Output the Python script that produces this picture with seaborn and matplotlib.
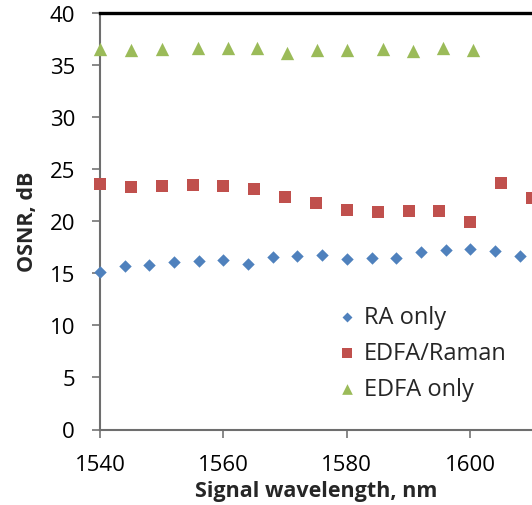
import matplotlib
matplotlib.use("Agg")
import matplotlib.pyplot as plt
import seaborn as sns
import pandas as pd

# ---- data ----
ra_wl = [1540, 1544, 1548, 1552, 1556, 1560, 1564, 1568, 1572, 1576,
         1580, 1584, 1588, 1592, 1596, 1600, 1604, 1608]
ra_osnr = [15.1, 15.65, 15.8, 16.05, 16.15, 16.3, 15.9, 16.55, 16.6, 16.7,
           16.35, 16.45, 16.45, 17.0, 17.2, 17.3, 17.15, 16.65]

hyb_wl = [1540, 1545, 1550, 1555, 1560, 1565, 1570, 1575, 1580, 1585,
          1590, 1595, 1600, 1605, 1610]
hyb_osnr = [23.55, 23.25, 23.4, 23.45, 23.35, 23.1, 22.35, 21.75, 21.1, 20.9,
            20.95, 21.0, 19.9, 23.65, 22.25]

edfa_wl = [1540, 1545, 1550, 1555.8, 1560.7, 1565.5, 1570.3, 1575.2, 1580,
           1585.8, 1590.7, 1595.6, 1600.4]
edfa_osnr = [36.5, 36.45, 36.5, 36.6, 36.55, 36.55, 36.15, 36.45, 36.45,
             36.5, 36.35, 36.55, 36.4]

series_names = ["RA only", "EDFA/Raman", "EDFA only"]
x_ticks = [1540, 1560, 1580, 1600]
y_ticks = [0, 5, 10, 15, 20, 25, 30, 35, 40]

colors = {"RA only": "#4F81BD", "EDFA/Raman": "#C0504D", "EDFA only": "#9BBB59"}
markers = {"RA only": "D", "EDFA/Raman": "s", "EDFA only": "^"}
sizes = {"RA only": 40, "EDFA/Raman": 76, "EDFA only": 92}

df = pd.concat([
    pd.DataFrame({"wl": ra_wl, "osnr": ra_osnr, "series": series_names[0]}),
    pd.DataFrame({"wl": hyb_wl, "osnr": hyb_osnr, "series": series_names[1]}),
    pd.DataFrame({"wl": edfa_wl, "osnr": edfa_osnr, "series": series_names[2]}),
])

sns.set_theme(style="white")
plt.rcParams["font.family"] = ["Open Sans", "DejaVu Sans"]

fig = plt.figure(figsize=(5.32, 5.06), dpi=100)
ax = fig.add_axes([100 / 532, 1 - 430.5 / 506, 432 / 532, 417 / 506])

for name in series_names:
    sub = df[df["series"] == name]
    sns.scatterplot(data=sub, x="wl", y="osnr", ax=ax, color=colors[name],
                    marker=markers[name], s=sizes[name], linewidth=0,
                    label=name, clip_on=False, zorder=3)

ax.set_xlim(1540, 1610)
ax.set_ylim(0, 40)
ax.set_xticks(x_ticks)
ax.set_yticks(y_ticks)

fs = 16
ax.tick_params(axis="both", which="major", labelsize=fs, colors="#7f7f7f",
               labelcolor="black", direction="out", length=6, width=1.3,
               left=True, bottom=True)
ax.tick_params(axis="x", pad=12)
ax.tick_params(axis="y", pad=12)

ax.set_xlabel("Signal wavelength, nm", fontsize=15.5, fontweight="bold",
              labelpad=3)
ax.set_ylabel("OSNR, dB", fontsize=15.5, fontweight="bold", labelpad=8)

for side in ["left", "bottom"]:
    ax.spines[side].set_color("#6e6e6e")
    ax.spines[side].set_linewidth(1.5)
ax.spines["top"].set_color("black")
ax.spines["top"].set_linewidth(2.4)
ax.spines["right"].set_visible(False)

leg = ax.legend(loc="center left", bbox_to_anchor=(0.55, 0.183),
                frameon=False, fontsize=17, borderpad=0, borderaxespad=0,
                handlelength=0.8, handletextpad=0.3, labelspacing=0.5,
                markerscale=0.8)

fig.savefig("out.png", dpi=100)
